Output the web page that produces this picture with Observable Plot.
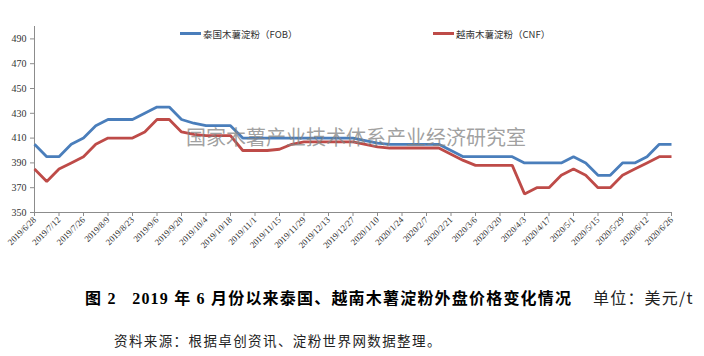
<!DOCTYPE html>
<html>
<head>
<meta charset="utf-8">
<script src="https://cdn.jsdelivr.net/npm/d3@7"></script>
<script src="https://cdn.jsdelivr.net/npm/@observablehq/plot@0.6"></script>
<style>
  html, body { margin: 0; padding: 0; background: #fff; }
  #wrap { position: relative; width: 704px; height: 356px; overflow: hidden; }
  #chart { position: absolute; left: 0; top: 0; }
  .abs { position: absolute; white-space: nowrap; }
  .leg { font-family: "Noto Sans CJK SC", sans-serif; font-size: 9.5px; color: #333; line-height: 12px; }
  .sw { position: absolute; height: 3px; }
  #wm { font-family: "Noto Sans CJK SC", sans-serif; font-size: 20px; line-height: 20px; color: rgba(130,130,130,0.75); letter-spacing: 0px; pointer-events: none; }
  #cap { font-family: "Liberation Serif", "Noto Sans CJK SC", serif; font-size: 16px; line-height: 18px; color: #000; letter-spacing: 1.2px; }
  #cap b { font-weight: 700; }
  #cap .u { font-weight: 400; font-family: "Noto Sans CJK SC", sans-serif; color: #222; }
  #src { font-family: "Noto Sans CJK SC", sans-serif; font-size: 13.5px; line-height: 16px; color: #222; letter-spacing: 1.4px; }
</style>
</head>
<body>
<div id="wrap">
  <div id="chart"></div>
  <div class="sw" style="left:180px; top:32px; width:21px; background:#4A7EBB;"></div>
  <div class="abs leg" id="leg1" style="left:203px; top:27.5px;"></div>
  <div class="sw" style="left:433px; top:32px; width:21px; background:#BE4B48;"></div>
  <div class="abs leg" id="leg2" style="left:456px; top:27.5px;"></div>
  <div class="abs" id="wm" style="left:186px; top:127px;"></div>
  <div class="abs" id="cap" style="left:85px; top:288px;"></div>
  <div class="abs" id="src" style="left:114px; top:332px;"></div>
</div>
<script>
// ---- data ----
const seriesNames = ["泰国木薯淀粉（FOB）", "越南木薯淀粉（CNF）"];
const startDate = "2019/6/28";
const weeks = 53; // weekly observations 2019/6/28 .. 2020/6/26
const thaiFOB = [405, 395, 395, 405, 410, 420, 425, 425, 425, 430, 435, 435, 425, 422, 420, 420, 420,
  410, 410, 410, 410, 410, 410, 410, 410, 410, 410, 408, 406, 405, 405, 405, 405, 405, 400,
  395, 395, 395, 395, 395, 390, 390, 390, 390, 395, 390, 380, 380, 390, 390, 395, 405, 405];
const vietCNF = [385, 375, 385, 390, 395, 405, 410, 410, 410, 415, 425, 425, 415, 413, 412, 412, 412,
  400, 400, 400, 401, 405, 407, 407, 407, 407, 407, 405, 403, 402, 402, 402, 402, 402, 397,
  392, 388, 388, 388, 388, 365, 370, 370, 380, 385, 380, 370, 370, 380, 385, 390, 395, 395];
const xTickLabels = ["2019/6/28", "2019/7/12", "2019/7/26", "2019/8/9", "2019/8/23", "2019/9/6", "2019/9/20",
  "2019/10/4", "2019/10/18", "2019/11/1", "2019/11/15", "2019/11/29", "2019/12/13", "2019/12/27",
  "2020/1/10", "2020/1/24", "2020/2/7", "2020/2/21", "2020/3/6", "2020/3/20", "2020/4/3", "2020/4/17",
  "2020/5/1", "2020/5/15", "2020/5/29", "2020/6/12", "2020/6/26"];
const yTicks = [350, 370, 390, 410, 430, 450, 470, 490];
const yDomain = [350, 500];
const watermark = "国家木薯产业技术体系产业经济研究室";
const captionMain = "图 2&nbsp;&nbsp;&nbsp;2019 年 6 月份以来泰国、越南木薯淀粉外盘价格变化情况";
const captionUnit = "单位：美元/t";
const source = "资料来源：根据卓创资讯、淀粉世界网数据整理。";

// ---- build ----
const parse = s => { const [y, m, d] = s.split("/").map(Number); return new Date(Date.UTC(y, m - 1, d)); };
const t0 = parse(startDate);
const dates = d3.range(weeks).map(i => new Date(+t0 + i * 7 * 864e5));
const rows = [];
dates.forEach((d, i) => {
  rows.push({date: d, value: thaiFOB[i], s: seriesNames[0]});
  rows.push({date: d, value: vietCNF[i], s: seriesNames[1]});
});
const tickDates = xTickLabels.map(parse);
const labelOf = new Map(xTickLabels.map((s, i) => [+tickDates[i], s]));

const plot = Plot.plot({
  width: 704,
  height: 262,
  marginLeft: 34,
  marginRight: 33,
  marginTop: 26,
  marginBottom: 50,
  style: {fontFamily: "'Liberation Serif', serif", color: "#333", background: "transparent"},
  x: {type: "utc", domain: [tickDates[0], tickDates[tickDates.length - 1]]},
  y: {domain: yDomain},
  color: {domain: seriesNames, range: ["#4A7EBB", "#BE4B48"]},
  marks: [
    Plot.ruleY([yDomain[0]], {stroke: "#8c8c8c", strokeWidth: 1}),
    Plot.ruleX([tickDates[0]], {y1: yDomain[0], y2: yDomain[1], stroke: "#8c8c8c", strokeWidth: 1}),
    Plot.axisY({ticks: yTicks, tickSize: 4, tickPadding: 4, fontSize: 10, stroke: "#8c8c8c", label: null}),
    Plot.axisX({ticks: tickDates, tickSize: 4, tickPadding: 2, tickRotate: -45, fontSize: 8.8,
      stroke: "#8c8c8c", tickFormat: d => labelOf.get(+d), label: null}),
    Plot.line(rows, {x: "date", y: "value", z: "s", stroke: "s", strokeWidth: 2.8, strokeLinejoin: "miter", strokeLinecap: "butt"})
  ]
});
document.getElementById("chart").appendChild(plot);
document.getElementById("leg1").textContent = seriesNames[0];
document.getElementById("leg2").textContent = seriesNames[1];
document.getElementById("wm").textContent = watermark;
document.getElementById("cap").innerHTML = "<b>" + captionMain + "</b>&nbsp;&nbsp;&nbsp;&nbsp;<span class='u'>" + captionUnit + "</span>";
document.getElementById("src").textContent = source;
</script>
</body>
</html>
